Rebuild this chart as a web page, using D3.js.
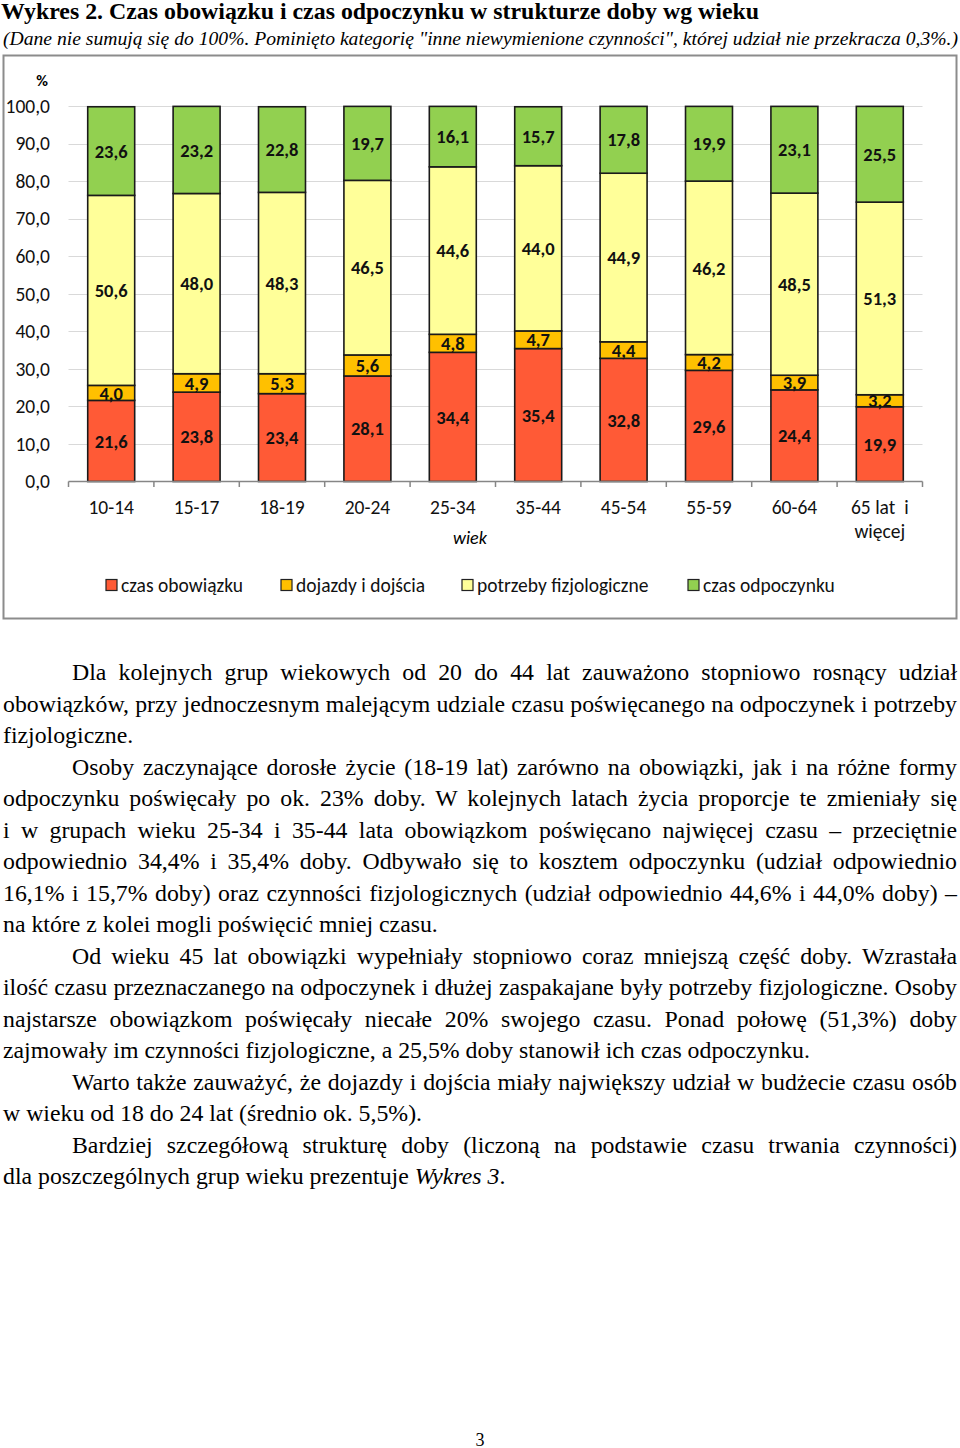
<!DOCTYPE html>
<html><head><meta charset="utf-8">
<script src="https://cdn.jsdelivr.net/npm/d3@7"></script>
<style>
body{margin:0;background:#fff;width:960px;height:1448px;position:relative;overflow:hidden}
#chart{position:absolute;left:0;top:0}
#text{position:absolute;left:3px;top:657px;width:954px;font-family:"Liberation Serif","Times New Roman",serif;font-size:23.8px;color:#000}
.ln{height:31.5px;line-height:31.5px;white-space:nowrap;text-align:justify;text-align-last:justify}
.ln.last{text-align-last:left}
.ln.ind{padding-left:69px}
#pg{position:absolute;left:0;width:960px;top:1430px;text-align:center;font-family:"Liberation Serif",serif;font-size:18px}
</style></head><body>
<svg id="chart" width="960" height="640"></svg>
<div id="text"></div>
<div id="pg">3</div>
<script>
const categories = ["10-14","15-17","18-19","20-24","25-34","35-44","45-54","55-59","60-64","65 lat  i|więcej"];
const seriesNames = ["czas obowiązku","dojazdy i dojścia","potrzeby fizjologiczne","czas odpoczynku"];
const obowiazki   = [21.6,23.8,23.4,28.1,34.4,35.4,32.8,29.6,24.4,19.9];
const dojazdy     = [4.0,4.9,5.3,5.6,4.8,4.7,4.4,4.2,3.9,3.2];
const fizjologia  = [50.6,48.0,48.3,46.5,44.6,44.0,44.9,46.2,48.5,51.3];
const odpoczynek  = [23.6,23.2,22.8,19.7,16.1,15.7,17.8,19.9,23.1,25.5];
const yTicks = [0,10,20,30,40,50,60,70,80,90,100];
const colors = ["#FF5A36","#FFC000","#FFFF99","#92D050"];

const svg = d3.select("#chart");
const fCal = "Carlito, Calibri, Lato, 'Open Sans', sans-serif";

// title
svg.append("text").attr("x",1).attr("y",19).attr("font-family","'Liberation Serif',serif")
  .attr("font-weight","bold").attr("font-size",23).attr("textLength",758).attr("lengthAdjust","spacingAndGlyphs")
  .text("Wykres 2. Czas obowiązku i czas odpoczynku w strukturze doby wg wieku");
svg.append("text").attr("x",3).attr("y",45).attr("font-family","'Liberation Serif',serif")
  .attr("font-style","italic").attr("font-size",19).attr("textLength",955).attr("lengthAdjust","spacingAndGlyphs")
  .text("(Dane nie sumują się do 100%. Pominięto kategorię \"inne niewymienione czynności\", której udział  nie przekracza 0,3%.)");

// frame
svg.append("rect").attr("x",3.5).attr("y",55.5).attr("width",953).attr("height",563)
  .attr("fill","none").attr("stroke","#8c8c8c").attr("stroke-width",2);

const x = d3.scaleBand().domain(categories).range([68.5,922.5]).paddingInner(0.45).paddingOuter(0.225);
const y = d3.scaleLinear().domain([0,100]).range([481.5,106]);

// gridlines
svg.append("g").selectAll("line").data(yTicks.slice(1)).join("line")
  .attr("x1",68.5).attr("x2",922.5).attr("y1",d=>Math.round(y(d))+0.5).attr("y2",d=>Math.round(y(d))+0.5)
  .attr("stroke","#d9d9d9").attr("stroke-width",1.2);

// y labels
svg.append("g").selectAll("text").data(yTicks).join("text")
  .attr("x",50).attr("y",d=>y(d)).attr("dy","0.35em").attr("text-anchor","end")
  .attr("font-family",fCal).attr("font-size",19.5).attr("fill","#111")
  .text(d=>d.toFixed(1).replace(".",","));
svg.append("text").attr("x",42).attr("y",86).attr("text-anchor","middle").attr("font-family",fCal)
  .attr("font-size",16).attr("font-weight","bold").text("%");

// stacked data
const rows = categories.map((c,i)=>({cat:c,s0:obowiazki[i],s1:dojazdy[i],s2:fizjologia[i],s3:odpoczynek[i]}));
const stack = d3.stack().keys(["s0","s1","s2","s3"])(rows);

const g = svg.append("g");
stack.forEach((layer,li)=>{
  g.append("g").selectAll("rect").data(layer).join("rect")
    .attr("x",d=>x(d.data.cat)).attr("width",x.bandwidth())
    .attr("y",d=>y(d[1])).attr("height",d=>y(d[0])-y(d[1]))
    .attr("fill",colors[li]).attr("stroke","#1a1a1a").attr("stroke-width",1.6);
});
stack.forEach((layer,li)=>{
  g.append("g").selectAll("text").data(layer).join("text")
    .attr("x",d=>x(d.data.cat)+x.bandwidth()/2)
    .attr("y",d=>y((d[0]+d[1])/2)).attr("dy","0.36em").attr("text-anchor","middle")
    .attr("font-family",fCal).attr("font-size",18.5).attr("font-weight","bold").attr("fill","#111")
    .text(d=>(d[1]-d[0]).toFixed(1).replace(".",","));
});

// x axis
const bounds = d3.range(categories.length+1).map(i=>68.5+i*x.step());
svg.append("line").attr("x1",68.5).attr("x2",922.5).attr("y1",481.5).attr("y2",481.5).attr("stroke","#868686").attr("stroke-width",1.5);
svg.append("g").selectAll("line").data(bounds).join("line")
  .attr("x1",d=>d).attr("x2",d=>d).attr("y1",481.5).attr("y2",487).attr("stroke","#868686").attr("stroke-width",1.5);
const xl = svg.append("g").selectAll("text").data(categories).join("text")
  .attr("x",d=>x(d)+x.bandwidth()/2).attr("y",514).attr("text-anchor","middle")
  .attr("font-family",fCal).attr("font-size",19.5).attr("fill","#111");
xl.each(function(d){
  const parts=d.split("|");
  const t=d3.select(this);
  parts.forEach((p,i)=>t.append("tspan").attr("x",x(d)+x.bandwidth()/2).attr("dy",i?24:0).attr("xml:space","preserve").text(p));
});
svg.append("text").attr("x",470).attr("y",544).attr("text-anchor","middle").attr("font-family",fCal)
  .attr("font-size",18).attr("font-style","italic").text("wiek");

// legend
const legX=[106,281,462,688];
const lg = svg.append("g").selectAll("g").data(seriesNames).join("g").attr("transform",(d,i)=>`translate(${legX[i]},585)`);
lg.append("rect").attr("x",0).attr("y",-5.5).attr("width",11).attr("height",11).attr("fill",(d,i)=>colors[i]).attr("stroke","#222").attr("stroke-width",1.2);
lg.append("text").attr("x",15).attr("y",0).attr("dy","0.35em").attr("font-family",fCal).attr("font-size",19.5).attr("fill","#111").text(d=>d);

// paragraph text
const lines = [
 ["ind","Dla kolejnych grup wiekowych od 20 do 44 lat zauważono stopniowo rosnący udział"],
 ["","obowiązków, przy jednoczesnym malejącym udziale czasu poświęcanego na odpoczynek i potrzeby"],
 ["last","fizjologiczne."],
 ["ind","Osoby zaczynające dorosłe życie (18-19 lat) zarówno na obowiązki, jak i na różne formy"],
 ["","odpoczynku poświęcały po ok. 23% doby. W kolejnych latach życia proporcje te zmieniały się"],
 ["","i w grupach wieku 25-34 i 35-44 lata obowiązkom poświęcano najwięcej czasu – przeciętnie"],
 ["","odpowiednio 34,4% i 35,4% doby. Odbywało się to kosztem odpoczynku (udział odpowiednio"],
 ["","16,1% i 15,7% doby) oraz czynności fizjologicznych (udział odpowiednio 44,6% i 44,0% doby) –"],
 ["last","na które z kolei mogli poświęcić mniej czasu."],
 ["ind","Od wieku 45 lat obowiązki wypełniały stopniowo coraz mniejszą część doby. Wzrastała"],
 ["","ilość czasu przeznaczanego na odpoczynek i dłużej zaspakajane były potrzeby fizjologiczne. Osoby"],
 ["","najstarsze obowiązkom poświęcały niecałe 20% swojego czasu. Ponad połowę (51,3%) doby"],
 ["last","zajmowały im czynności fizjologiczne, a 25,5% doby stanowił ich czas odpoczynku."],
 ["ind","Warto także zauważyć, że dojazdy i dojścia miały największy udział w budżecie czasu osób"],
 ["last","w wieku od 18 do 24 lat (średnio ok. 5,5%)."],
 ["ind","Bardziej szczegółową strukturę doby (liczoną na podstawie czasu trwania czynności)"],
 ["last","dla poszczególnych grup wieku prezentuje |Wykres 3|."]
];
const tx = d3.select("#text");
lines.forEach(([cls,t])=>{
  const d = tx.append("div").attr("class","ln "+cls);
  if(t.includes("|")){
    const p=t.split("|");
    d.append("span").text(p[0]); d.append("i").text(p[1]); d.append("span").text(p[2]);
  } else d.text(t);
});
</script>
</body></html>
